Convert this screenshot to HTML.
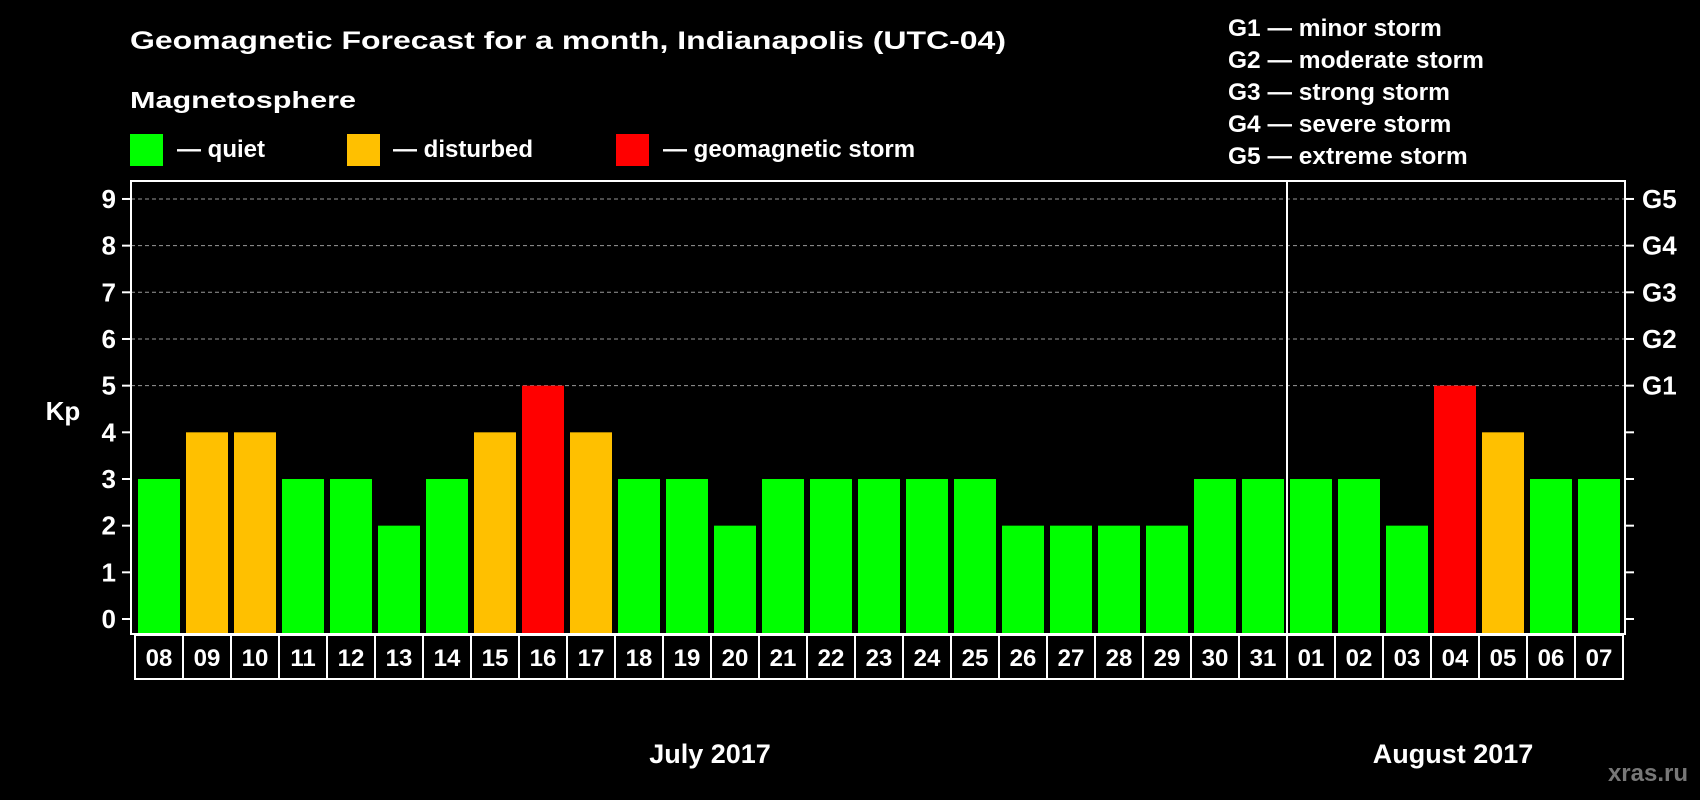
<!DOCTYPE html>
<html><head><meta charset="utf-8"><style>
html,body{margin:0;padding:0;background:#000;}
svg{display:block;font-family:"Liberation Sans",Arial,sans-serif;font-weight:bold;}
</style></head><body>
<svg id="chart" width="1700" height="800" viewBox="0 0 1700 800">
<rect width="1700" height="800" fill="#000"/>
<text x="130" y="49" fill="#fff" font-size="25" textLength="876" lengthAdjust="spacingAndGlyphs">Geomagnetic Forecast for a month, Indianapolis (UTC-04)</text>
<text x="130" y="108" fill="#fff" font-size="23" textLength="226" lengthAdjust="spacingAndGlyphs">Magnetosphere</text>
<g><rect x="130" y="134" width="33" height="32" fill="#00ff00"/><text x="177" y="157" fill="#fff" font-size="24">— quiet</text></g>
<g><rect x="347" y="134" width="33" height="32" fill="#ffc000"/><text x="393" y="157" fill="#fff" font-size="24">— disturbed</text></g>
<g><rect x="616" y="134" width="33" height="32" fill="#ff0000"/><text x="663" y="157" fill="#fff" font-size="24">— geomagnetic storm</text></g>
<g fill="#fff" font-size="24.5">
<text x="1228" y="36">G1 — minor storm</text>
<text x="1228" y="68">G2 — moderate storm</text>
<text x="1228" y="100">G3 — strong storm</text>
<text x="1228" y="132">G4 — severe storm</text>
<text x="1228" y="164">G5 — extreme storm</text>
</g>
<g id="grid"></g>
<g id="bars"></g>
<g id="axes"></g>
<text x="63" y="420" fill="#fff" font-size="26" text-anchor="middle">Kp</text>
<text x="710" y="763" fill="#fff" font-size="27" text-anchor="middle">July 2017</text>
<text x="1453" y="763" fill="#fff" font-size="27" text-anchor="middle">August 2017</text>
<text x="1688" y="781" fill="#777" font-size="24" text-anchor="end">xras.ru</text>
</svg>
<script>
const days = ["08","09","10","11","12","13","14","15","16","17","18","19","20","21","22","23","24","25","26","27","28","29","30","31","01","02","03","04","05","06","07"];
const kpValues = [3,4,4,3,3,2,3,4,5,4,3,3,2,3,3,3,3,3,2,2,2,2,3,3,3,3,2,5,4,3,3];
const yTicks = [0,1,2,3,4,5,6,7,8,9];
const gLabels = ["","","","","","G1","G2","G3","G4","G5"];
const monthSplitIndex = 24;

const NS = "http://www.w3.org/2000/svg";
const plotL = 131, plotR = 1625, plotT = 181, plotB = 634;
const x0 = 138, pitch = 48, barW = 42;
function yScale(v){ return 619 - v * 46.67; }
function xScale(i){ return x0 + i * pitch; }
function mk(tag, attrs, parent){ const e = document.createElementNS(NS, tag); for (const k in attrs) e.setAttribute(k, attrs[k]); parent.appendChild(e); return e; }
function color(v){ return v >= 5 ? "#ff0000" : (v >= 4 ? "#ffc000" : "#00ff00"); }

const grid = document.getElementById("grid"), bars = document.getElementById("bars"), axes = document.getElementById("axes");
yTicks.forEach(t => {
  if (t >= 5) {
    const l = mk("line", {x1: plotL, x2: plotR, y1: yScale(t), y2: yScale(t), stroke: "#999", "stroke-dasharray": "4,3", "stroke-width": 1}, grid);
    
    
  }
  const tl = mk("line", {x1: plotL - 9, x2: plotL, y1: yScale(t), y2: yScale(t), stroke: "#fff", "stroke-width": 2}, axes);
  
  
  const tr = mk("line", {x1: plotR, x2: plotR + 9, y1: yScale(t), y2: yScale(t), stroke: "#fff", "stroke-width": 2}, axes);
  
  
  const lab = mk("text", {x: 116, y: yScale(t) + 9, fill: "#fff", "font-size": 26, "text-anchor": "end"}, axes);
  lab.textContent = t;
  
  
  if (gLabels[t]) {
    const g = mk("text", {x: 1642, y: yScale(t) + 9, fill: "#fff", "font-size": 26}, axes);
    g.textContent = gLabels[t];
    
    
  }
});
kpValues.forEach((v, i) => {
  const r = mk("rect", {x: xScale(i), y: yScale(v), width: barW, height: plotB - yScale(v), fill: color(v)}, bars);
  
  
  const b = mk("rect", {x: xScale(i) - 3, y: 635, width: pitch, height: 44, fill: "none", stroke: "#fff", "stroke-width": 2}, axes);
  
  
  const t = mk("text", {x: xScale(i) + barW / 2, y: 666, fill: "#fff", "font-size": 24, "text-anchor": "middle"}, axes);
  t.textContent = days[i];
  
  
});
const frame = mk("rect", {x: plotL, y: plotT, width: plotR - plotL, height: plotB - plotT, fill: "none", stroke: "#fff", "stroke-width": 2}, axes);


const divX = xScale(monthSplitIndex) - 3;
const div = mk("line", {x1: divX, x2: divX, y1: plotT, y2: 679, stroke: "#fff", "stroke-width": 2}, axes);


</script>
</body></html>
